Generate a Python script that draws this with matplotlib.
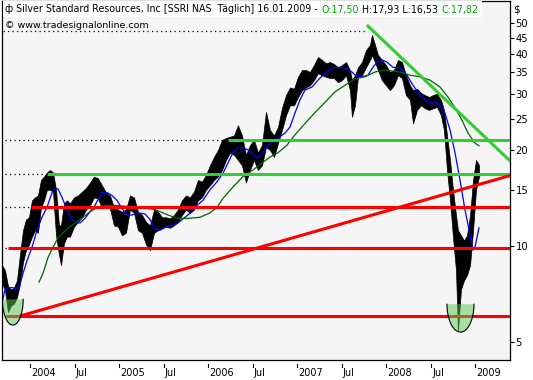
import numpy as np
import matplotlib
matplotlib.use("Agg")
import matplotlib.pyplot as plt
from matplotlib.patches import Rectangle
from matplotlib.transforms import blended_transform_factory

bar_t = [2003.680, 2003.713, 2003.747, 2003.781, 2003.815, 2003.848, 2003.882, 2003.916, 2003.949, 2003.983,
         2004.017, 2004.051, 2004.084, 2004.118, 2004.152, 2004.185, 2004.219, 2004.253, 2004.287, 2004.320,
         2004.343, 2004.376, 2004.410, 2004.444, 2004.489, 2004.534, 2004.579, 2004.624, 2004.669, 2004.713,
         2004.758, 2004.803, 2004.848, 2004.893, 2004.938, 2004.983, 2005.028, 2005.073, 2005.118, 2005.163,
         2005.208, 2005.253, 2005.298, 2005.343, 2005.388, 2005.433, 2005.478, 2005.522, 2005.567, 2005.612,
         2005.657, 2005.702, 2005.747, 2005.792, 2005.837, 2005.882, 2005.927, 2005.972, 2006.017, 2006.062,
         2006.107, 2006.152, 2006.197, 2006.242, 2006.287, 2006.331, 2006.376, 2006.421, 2006.466, 2006.511,
         2006.556, 2006.601, 2006.646, 2006.691, 2006.736, 2006.781, 2006.826, 2006.871, 2006.916, 2006.961,
         2007.006, 2007.051, 2007.096, 2007.140, 2007.185, 2007.230, 2007.275, 2007.320, 2007.365, 2007.410,
         2007.455, 2007.500, 2007.545, 2007.590, 2007.612, 2007.646, 2007.680, 2007.725, 2007.770, 2007.815,
         2007.837, 2007.871, 2007.904, 2007.949, 2007.994, 2008.039, 2008.084, 2008.129, 2008.174, 2008.219,
         2008.264, 2008.298, 2008.343, 2008.388, 2008.433, 2008.478, 2008.522, 2008.567, 2008.612, 2008.646,
         2008.680, 2008.714, 2008.747, 2008.781, 2008.803, 2008.837, 2008.871, 2008.905, 2008.939, 2008.973,
         2009.006, 2009.040]
bar_low = [7.6, 7.3, 6.2, 6.5, 6.6, 6.9, 7.6, 8.9, 9.7, 10.1,
           10.7, 11.2, 11.0, 13.2, 13.9, 15.0, 15.0, 14.8, 10.8, 9.4,
           8.7, 10.2, 10.7, 10.7, 11.5, 11.9, 12.3, 13.0, 13.4, 14.2,
           14.1, 13.1, 13.4, 13.1, 11.6, 11.5, 10.8, 11.0, 13.0, 12.7,
           11.2, 11.0, 10.1, 9.7, 11.0, 11.2, 11.4, 11.5, 11.4, 11.6,
           11.9, 12.5, 13.0, 12.7, 13.0, 13.9, 14.2, 15.0, 15.5, 16.1,
           16.5, 17.3, 18.6, 19.6, 19.3, 18.6, 17.9, 15.8, 17.3, 18.6,
           17.3, 17.9, 20.4, 20.0, 19.0, 21.0, 23.1, 25.7, 27.6, 27.6,
           29.3, 30.8, 31.4, 31.9, 33.1, 34.8, 34.3, 33.9, 33.6, 33.6,
           32.6, 33.1, 34.3, 30.8, 25.4, 27.6, 33.9, 34.3, 36.3, 38.3,
           39.7, 37.7, 35.6, 33.1, 31.9, 30.8, 31.9, 34.3, 33.6, 29.7,
           28.7, 24.2, 26.7, 27.6, 27.0, 26.7, 27.0, 27.3, 25.7, 23.1,
           17.3, 13.9, 10.7, 8.4, 5.4, 7.3, 7.8, 8.1, 8.7, 11.2,
           15.0, 16.5]
bar_high = [8.7, 8.4, 7.5, 7.3, 7.4, 7.8, 9.4, 11.2, 12.1, 12.3,
            13.9, 14.2, 14.4, 16.1, 16.5, 17.0, 17.3, 17.0, 15.0, 11.6,
            11.6, 13.6, 13.9, 13.6, 14.2, 14.4, 14.8, 15.2, 15.8, 16.5,
            16.3, 15.5, 14.7, 14.4, 13.2, 13.0, 12.8, 13.0, 14.4, 14.2,
            12.8, 12.5, 11.9, 11.6, 13.0, 12.8, 12.3, 12.3, 12.2, 12.5,
            13.0, 13.9, 14.4, 14.2, 14.8, 16.1, 15.9, 16.7, 17.9, 19.0,
            20.0, 21.5, 21.8, 22.0, 22.2, 23.9, 22.2, 19.3, 20.7, 21.5,
            19.6, 20.7, 26.3, 23.1, 22.2, 23.6, 27.1, 29.7, 31.4, 31.1,
            33.9, 35.6, 35.6, 35.1, 36.9, 39.1, 38.3, 37.4, 37.7, 37.2,
            36.3, 36.9, 37.7, 35.6, 33.1, 34.3, 36.3, 37.7, 41.1, 42.7,
            45.9, 42.7, 39.7, 38.3, 36.9, 35.1, 35.6, 38.3, 37.7, 34.3,
            31.9, 30.8, 31.1, 30.2, 29.7, 29.3, 29.7, 30.0, 28.7, 26.7,
            22.2, 18.6, 15.0, 12.5, 11.2, 10.8, 10.4, 10.8, 12.5, 16.1,
            18.6, 17.93]

# short moving average (blue)
fast_t = [2003.691, 2003.713, 2003.747, 2003.803, 2003.848, 2003.882, 2003.916, 2003.961, 2004.017, 2004.073,
          2004.129, 2004.185, 2004.242, 2004.275, 2004.309, 2004.354, 2004.410, 2004.455, 2004.500, 2004.556,
          2004.612, 2004.669, 2004.725, 2004.770, 2004.803, 2004.860, 2004.916, 2004.972, 2005.028, 2005.084,
          2005.140, 2005.208, 2005.287, 2005.343, 2005.388, 2005.455, 2005.534, 2005.601, 2005.657, 2005.736,
          2005.815, 2005.871, 2005.938, 2006.017, 2006.096, 2006.163, 2006.219, 2006.275, 2006.331, 2006.388,
          2006.444, 2006.500, 2006.556, 2006.612, 2006.669, 2006.725, 2006.781, 2006.860, 2006.916, 2006.972,
          2007.028, 2007.084, 2007.163, 2007.230, 2007.309, 2007.388, 2007.455, 2007.534, 2007.612, 2007.669,
          2007.725, 2007.792, 2007.848, 2007.893, 2007.949, 2008.006, 2008.073, 2008.152, 2008.230, 2008.298,
          2008.376, 2008.433, 2008.489, 2008.545, 2008.601, 2008.657, 2008.714, 2008.770, 2008.826, 2008.882,
          2008.938, 2008.972, 2008.994, 2009.040]
fast_ma = [6.8, 7.3, 7.4, 7.4, 7.3, 7.6, 8.2, 9.0, 9.9, 11.2,
           12.3, 13.2, 14.7, 15.1, 15.1, 14.2, 13.0, 12.2, 11.9, 11.8,
           12.2, 12.8, 13.4, 14.2, 14.7, 14.7, 14.4, 13.9, 13.1, 12.5,
           12.5, 12.7, 12.6, 12.1, 11.4, 11.2, 11.5, 11.6, 11.8, 12.3,
           12.8, 13.4, 13.9, 15.0, 15.9, 16.9, 18.2, 19.6, 20.3, 20.3,
           20.0, 19.3, 18.9, 19.6, 20.7, 21.2, 21.8, 22.6, 23.6, 26.1,
           28.7, 30.8, 31.5, 33.1, 34.8, 36.1, 36.3, 36.1, 35.1, 33.9,
           33.9, 34.3, 36.3, 37.7, 38.3, 37.7, 36.3, 36.1, 34.3, 31.9,
           29.7, 28.7, 28.1, 28.3, 27.6, 26.1, 23.1, 19.6, 16.1, 13.0,
           10.9, 9.7, 9.9, 11.4]

# long moving average (dark green)
slow_t = [2004.096, 2004.140, 2004.197, 2004.253, 2004.309, 2004.365, 2004.444, 2004.522, 2004.590, 2004.669,
          2004.747, 2004.837, 2004.949, 2005.096, 2005.253, 2005.399, 2005.545, 2005.657, 2005.770, 2005.904,
          2006.017, 2006.096, 2006.163, 2006.275, 2006.388, 2006.500, 2006.601, 2006.691, 2006.781, 2006.882,
          2006.972, 2007.084, 2007.197, 2007.309, 2007.421, 2007.534, 2007.646, 2007.758, 2007.871, 2007.972,
          2008.152, 2008.264, 2008.376, 2008.489, 2008.601, 2008.691, 2008.770, 2008.848, 2008.916, 2008.994,
          2009.040]
slow_ma = [7.7, 8.2, 9.2, 9.9, 10.6, 11.0, 11.5, 11.9, 12.3, 12.8,
           13.2, 13.4, 13.4, 13.3, 13.2, 13.0, 12.5, 12.2, 12.2, 12.3,
           12.7, 13.2, 14.1, 15.3, 16.5, 17.3, 18.2, 19.0, 19.6, 20.7,
           22.3, 24.2, 26.2, 28.2, 30.4, 31.9, 33.4, 33.9, 35.1, 35.6,
           35.1, 34.3, 33.9, 33.1, 31.5, 29.3, 27.1, 24.8, 22.6, 21.0,
           20.6]

# horizontal support / resistance lines
level_price = [21.5, 16.8, 13.25, 9.85, 6.03]
level_start = [2006.22, 2004.185, 2004.01, 2003.75, 2003.72]
level_color = ["#33cc33", "#33cc33", "#ff0000", "#ff0000", "#ff0000"]
peak_price = 47.2
peak_start = 2007.76

# trend lines: two anchor points each
support_t = [2003.882, 2007.927]
support_p = [6.03, 12.7]
resist_t = [2007.792, 2009.163]
resist_p = [48.9, 21.2]

# green bowls at the two lows: left date, right date, top price, bottom price
bowls = [(2003.685, 2003.918, 6.8, 5.65), (2008.680, 2008.983, 6.57, 5.37)]

y_ticks = [5, 10, 15, 20, 25, 30, 35, 40, 45, 50]
x_ticks = [2004.0, 2004.496, 2005.0, 2005.496, 2006.0, 2006.496, 2007.0, 2007.496, 2008.0, 2008.5, 2009.0]
x_labels = ["2004", "Jul", "2005", "Jul", "2006", "Jul", "2007", "Jul", "2008", "Jul", "2009"]

header = [("ф Silver Standard Resources, Inc [SSRI NAS  Täglich] 16.01.2009 -", "black"),
          ("O:17,50", "#00a800"), ("H:17,93 L:16,53", "black"), ("C:17,82", "#00a800")]

x_min, x_max = 2003.680, 2009.388
y_min, y_max = 4.39, 58.6

plt.rcParams["font.family"] = ["DejaVu Sans"]
W, H = 533, 380
fig = plt.figure(figsize=(W / 100, H / 100), dpi=100)
ax = fig.add_axes([2 / W, 20 / H, 508 / W, 359 / H])
ax.set_facecolor("#f5f5f5")
ax.set_yscale("log")
ax.set_xlim(x_min, x_max)
ax.set_ylim(y_min, y_max)

ax.fill_between(bar_t, bar_low, bar_high, color="black", lw=0.5, zorder=2)
ax.plot(fast_t, fast_ma, color="#0000ff", lw=0.9, zorder=3)
ax.plot(slow_t, slow_ma, color="#006400", lw=0.9, zorder=3)

for p, s, c in zip(level_price, level_start, level_color):
    ax.hlines(p, s, x_max, color=c, lw=2.2, zorder=4)
    ax.hlines(p, x_min + 0.03, s, color="black", lw=0.9, linestyles=(0, (1, 2.6)), zorder=4)
ax.hlines(peak_price, x_min + 0.01, peak_start, color="black", lw=0.9, linestyles=(0, (1, 2.6)), zorder=4)

def trend(ts, ps, color):
    k = (np.log(ps[1]) - np.log(ps[0])) / (ts[1] - ts[0])
    t = np.array([ts[0], x_max])
    ax.plot(t, ps[0] * np.exp(k * (t - ts[0])), color=color, lw=2.2, zorder=4)

trend(support_t, support_p, "#ff0000")
trend(resist_t, resist_p, "#33cc33")

# bowls drawn in axes space so they keep their shape on the log axis
to_axes = ax.transData + ax.transAxes.inverted()
for t0, t1, ptop, pbot in bowls:
    (x0, y0), (x1, y1) = to_axes.transform([(t0, ptop), (t1, pbot)])
    th = np.linspace(0, np.pi, 60)
    xs = (x0 + x1) / 2 + (x1 - x0) / 2 * np.cos(th)
    ys = y0 - (y0 - y1) * np.sin(th)
    ax.fill(xs, ys, transform=ax.transAxes, color="#5cc853", alpha=0.5, lw=0, zorder=5)
    ax.plot(xs, ys, transform=ax.transAxes, color="black", lw=0.8, zorder=5)

# right price axis
ax.yaxis.tick_right()
ax.set_yticks(y_ticks)
ax.set_yticklabels([str(v) for v in y_ticks])
ax.yaxis.set_minor_locator(matplotlib.ticker.NullLocator())
ax.tick_params(axis="y", length=3, width=0.8, pad=1, labelsize=7.2)
fig.text(513 / W, 1 - 9 / H, "$", fontsize=7.5, va="center", ha="left")

# time axis: small marks below the frame, labels to the right of them
ax.set_xticks([])
tr = blended_transform_factory(ax.transData, ax.transAxes)
for t, lab in zip(x_ticks, x_labels):
    ax.plot([t, t], [-4 / 359, -7 / 359], transform=tr, color="black", lw=0.8, clip_on=False)
    ax.text(t + 0.012, -13 / 359, lab, transform=tr, fontsize=7, va="center", ha="left")

for sp in ax.spines.values():
    sp.set_linewidth(0.9)

# header line: pieces laid out one after another, on a white strip
renderer = fig.canvas.get_renderer()
x = 5.0
for s, c in header:
    txt = fig.text(x / W, 1 - 9.5 / H, s, fontsize=6.85, color=c, va="center", ha="left", zorder=4)
    x = txt.get_window_extent(renderer=renderer).x1 + 3.5
fig.add_artist(Rectangle((3 / W, 1 - 17 / H), (x - 3) / W, 16 / H, transform=fig.transFigure,
                         facecolor="white", edgecolor="none", zorder=2))
fig.text(5 / W, 1 - 26 / H, "© www.tradesignalonline.com", fontsize=6.8, va="center", ha="left")

fig.savefig("out.png", dpi=100, facecolor="white")
